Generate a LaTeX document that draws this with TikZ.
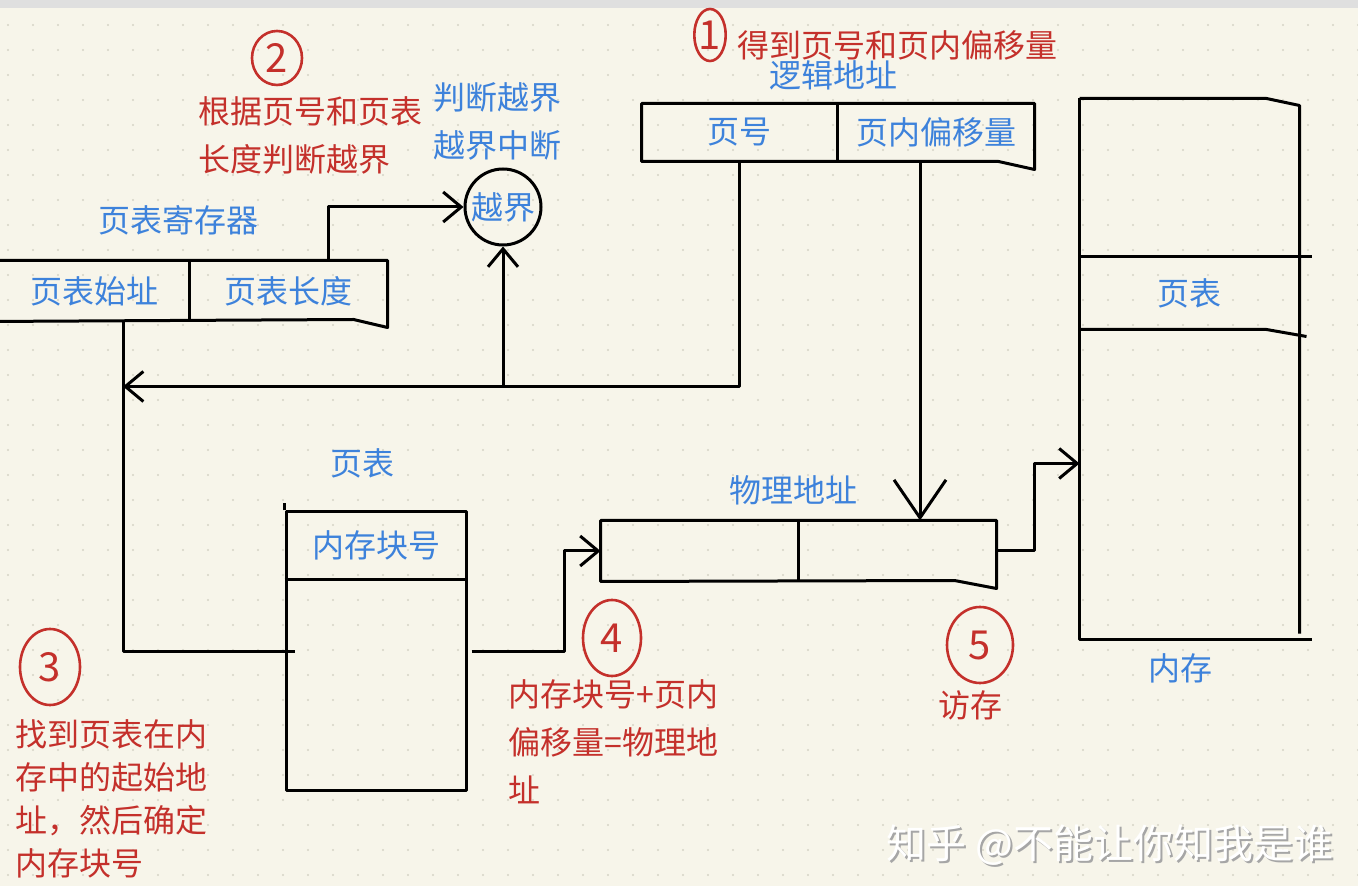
\documentclass[tikz,border=0pt]{standalone}
\usepackage{fontspec}
\setmainfont{Noto Sans CJK SC}
\usetikzlibrary{arrows.meta,calc,positioning,shapes.geometric}
\definecolor{paper}{HTML}{F7F5EA}
\definecolor{dotc}{HTML}{D6D3C6}
\definecolor{note}{HTML}{C4302B}
\definecolor{label}{HTML}{3D82DB}

\begin{document}
\begin{tikzpicture}[x=0.5pt,y=-0.5pt,line width=1.5pt,line join=round,
		cell/.style={inner sep=0pt,text=label,font=\fontsize{16}{16}\selectfont},
		lbl/.style={inner sep=0pt,text=label,font=\fontsize{16}{24}\selectfont,align=center},
		remark/.style={inner sep=0pt,text=note,font=\fontsize{16}{24}\selectfont,align=left},
		ring/.style={ellipse,draw=note,line width=1.3pt,inner sep=0pt,text=note,font=\fontsize{20}{20}\selectfont},
		arr/.style={-{Straight Barb[length=9pt,width=15pt]}}]
		\useasboundingbox (0,0) rectangle (1358,886);
		\fill[paper] (0,0) rectangle (1358,886);
		\fill[gray!25] (0,0) rectangle (1358,8);
		\foreach \i in {0,...,54}
			\foreach \j in {1,...,35}
				\fill[dotc] (\i*25+8,\j*25) circle (1.2);
		%% logical address
		\node[cell,minimum width=96.5pt,minimum height=27.5pt] (pn) at (739.5,132.5) {页号};
		\node[cell,minimum width=97pt,minimum height=27.5pt,right=0pt of pn] (off) {页内偏移量};
		\draw (pn.north west) -- (off.north east) -- ($(off.south east)+(0,8)$) -- ($(off.south east)+(-36,0)$) -- (pn.south west) -- cycle;
		\draw (pn.north east) -- (pn.south east);
		\node[lbl] (laddr) at (833,75) {逻辑地址};
		\node[ring,minimum width=12pt,minimum height=26pt] (n1) at (710,35) {1};
		\node[remark,anchor=west] (s1) at (736,45) {得到页号和页内偏移量};
		%% page table register
		\node[cell,minimum width=94pt,minimum height=29pt] (base) at (94,291) {页表始址};
		\node[cell,minimum width=97.5pt,minimum height=29pt,right=0pt of base] (len) {页表长度};
		\draw ($(base.north west)+(-10,0)$) -- (len.north east) -- ($(len.south east)+(0,6)$) -- ($(len.south east)+(-34,-2)$) -- ($(base.south west)+(-10,0)$);
		\draw (base.north east) -- (base.south east);
		\node[lbl] (preg) at (178,220) {页表寄存器};
		%% bound check
		\node[circle,draw,minimum size=38pt,inner sep=0pt,text=label,font=\fontsize{16}{16}\selectfont] (chk) at (503,207) {越界};
		\node[lbl] (chknote) at (497,121) {判断越界\\越界中断};
		\node[ring,minimum width=25pt,minimum height=27pt] (n2) at (277,58) {2};
		\node[remark,anchor=north west] (s2) at (197,95) {根据页号和页表\\长度判断越界};
		%% page table in memory
		\node[draw,minimum width=90pt,minimum height=139pt,inner sep=0pt] (pt) at (376,651) {};
		\node[cell,minimum width=90pt,minimum height=33pt,anchor=north] (blk) at (pt.north) {内存块号};
		\draw (blk.south west) -- (blk.south east);
		\draw (pt.north west) -- ++(0,-7);
		\node[lbl] (ptlbl) at (362,463) {页表};
		\node[ring,minimum width=30pt,minimum height=38pt] (n3) at (50,667) {3};
		\node[remark,anchor=north west,font=\fontsize{16}{21.5}\selectfont] (s3) at (14,718) {找到页表在内\\存中的起始地\\址，然后确定\\内存块号};
		%% physical address
		\node[cell,minimum width=97.5pt,minimum height=29pt] (fn) at (699.5,551) {};
		\node[cell,minimum width=97.5pt,minimum height=29pt,right=0pt of fn] (po) {};
		\draw (fn.north west) -- (po.north east) -- ($(po.south east)+(0,7)$) -- ($(po.south east)+(-42,-1)$) -- (fn.south west) -- cycle;
		\draw (fn.north east) -- (fn.south east);
		\node[lbl] (paddr) at (793,490) {物理地址};
		\node[ring,minimum width=29pt,minimum height=38pt] (n4) at (612,638) {4};
		\node[remark,anchor=north west] (s4) at (507,678) {内存块号+页内\\偏移量=物理地\\址};
		\node[ring,minimum width=33pt,minimum height=38pt] (n5) at (980,645) {5};
		\node[remark] (s5) at (970,705) {访存};
		%% memory
		\node[minimum width=108.5pt,minimum height=269pt,inner sep=0pt] (mem) at (1189.5,369) {};
		\draw (mem.north west) -- ($(mem.north east)+(-33,0)$) -- ($(mem.north east)+(0,7)$) -- ($(mem.south east)+(0,-6)$);
		\draw (mem.north west) -- (mem.south west) -- ($(mem.south east)+(12,0)$);
		\node[cell,minimum width=108.5pt,minimum height=35pt] (ptm) at (1189.5,293) {页表};
		\draw (ptm.north west) -- ($(ptm.north east)+(12,0)$);
		\draw (ptm.south west) -- ($(ptm.south east)+(-33,0)$) -- ($(ptm.south east)+(7,7)$);
		\node[lbl] (memlbl) at (1180,668) {内存};
		%% connectors
		\coordinate (j) at ($(base.south)+(29,65)$);
		\coordinate (lenup) at ($(len.north)+(40,0)$);
		\coordinate (offdrop) at ($(off.south)+(-16,0)$);
		\coordinate (memin) at ($(mem.north west)+(0,365)$);
		\draw[arr] (lenup) |- (chk.west);
		\draw[arr] (pn.south) |- (j);
		\draw[arr] (chk.south |- j) -- (chk.south);
		\draw ($(base.south)+(29,0)$) |- ($(pt.west)+(10,0)$);
		\draw[arr] ($(pt.east)+(4,0)$) -- ++(93,0) |- (fn.west);
		\draw[-{Straight Barb[length=19pt,width=26pt]}] (offdrop) -- (offdrop |- po.north);
		\draw[arr] (po.east) -- ++(38,0) |- (memin);
		%% watermark
		\node[text=gray!70,font=\fontsize{20}{20}\selectfont] at (1112,847) {知乎 @不能让你知我是谁};
		\node[text=white,font=\fontsize{20}{20}\selectfont] (wm) at (1110,845) {知乎 @不能让你知我是谁};
	\end{tikzpicture}
\end{document}
